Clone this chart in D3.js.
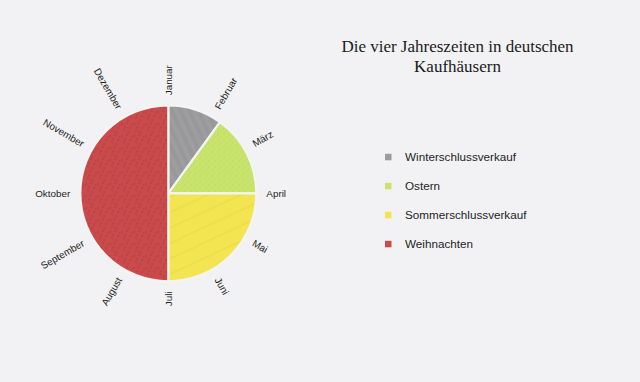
<!DOCTYPE html>
<html><head><meta charset="utf-8">
<script src="https://cdn.jsdelivr.net/npm/d3@7"></script>
<style>
html,body{margin:0;padding:0;background:#f2f2f4;}
svg{display:block;}
</style></head>
<body>
<svg id="chart" width="640" height="382"></svg>
<script>
const seasons = ["Winterschlussverkauf", "Ostern", "Sommerschlussverkauf", "Weihnachten"];
const shares = [10, 15, 25, 50];
const colors = ["#9b9b9d", "#c9e46d", "#f3e452", "#c94b4c"];
const months = ["Januar","Februar","März","April","Mai","Juni","Juli","August","September","Oktober","November","Dezember"];
const title = ["Die vier Jahreszeiten in deutschen", "Kaufhäusern"];

const svg = d3.select("#chart");
const cx = 168.3, cy = 193.3, R = 88;

// textures
const defs = svg.append("defs");
const pRed = defs.append("pattern").attr("id","pRed").attr("patternUnits","userSpaceOnUse").attr("width",12).attr("height",12);
pRed.append("rect").attr("width",12).attr("height",12).attr("fill",colors[3]);
[[1,2],[6,1],[9,6],[3,8],[7,10],[11,3],[4,5]].forEach(d=>pRed.append("rect").attr("x",d[0]).attr("y",d[1]).attr("width",1.5).attr("height",1.5).attr("fill","#b3383b").attr("opacity",0.85));
const pGrey = defs.append("pattern").attr("id","pGrey").attr("patternUnits","userSpaceOnUse").attr("width",8).attr("height",8).attr("patternTransform","rotate(65)");
pGrey.append("rect").attr("width",8).attr("height",8).attr("fill",colors[0]);
pGrey.append("line").attr("x1",0).attr("y1",2).attr("x2",8).attr("y2",2).attr("stroke","#8e8e90").attr("stroke-width",0.7);
pGrey.append("line").attr("x1",0).attr("y1",6).attr("x2",8).attr("y2",6).attr("stroke","#a6a6a8").attr("stroke-width",0.7);
const pGreen = defs.append("pattern").attr("id","pGreen").attr("patternUnits","userSpaceOnUse").attr("width",6).attr("height",6);
pGreen.append("rect").attr("width",6).attr("height",6).attr("fill",colors[1]);
[[1,1],[4,3],[2,5]].forEach(d=>pGreen.append("rect").attr("x",d[0]).attr("y",d[1]).attr("width",1).attr("height",1).attr("fill","#bcd862"));
const pYellow = defs.append("pattern").attr("id","pYellow").attr("patternUnits","userSpaceOnUse").attr("width",14).attr("height",14).attr("patternTransform","rotate(-25)");
pYellow.append("rect").attr("width",14).attr("height",14).attr("fill",colors[2]);
pYellow.append("line").attr("x1",0).attr("y1",4).attr("x2",14).attr("y2",4).attr("stroke","#eedc45").attr("stroke-width",1.5);
const fills = ["url(#pGrey)","url(#pGreen)","url(#pYellow)","url(#pRed)"];

const pie = d3.pie().sort(null).value(d=>d)(shares);
const arc = d3.arc().innerRadius(0).outerRadius(R);
const g = svg.append("g").attr("transform",`translate(${cx},${cy})`);
g.selectAll("path.slice").data(pie).join("path")
  .attr("class","slice")
  .attr("d",arc)
  .attr("fill",(d,i)=>fills[i])
  .attr("stroke","#f4f4f4").attr("stroke-width",2.2).attr("stroke-linejoin","miter");

// month labels
const angle = d3.scaleLinear().domain([0,12]).range([0,360]);
const LR = 98;
g.selectAll("text.month").data(months).join("text")
  .attr("class","month")
  .each(function(m,i){
    const a = angle(i);
    const rad = (a-90)*Math.PI/180;
    const x = LR*Math.cos(rad), y = LR*Math.sin(rad);
    const left = a >= 180;
    d3.select(this)
      .attr("transform",`translate(${x},${y}) rotate(${left ? a+90 : a-90})`)
      .attr("text-anchor", left ? "end" : "start");
  })
  .attr("dy","0.35em")
  .attr("font-family","Liberation Sans, Arial, sans-serif")
  .attr("font-size",9.9)
  .attr("fill","#1e1e1e")
  .text(d=>d);

// title
svg.append("text")
  .attr("x",457.5).attr("y",52)
  .attr("text-anchor","middle")
  .attr("font-family","Liberation Serif, 'DejaVu Serif', serif")
  .attr("font-size",17)
  .attr("fill","#1a1a1a")
  .selectAll("tspan").data(title).join("tspan")
  .attr("x",457.5).attr("dy",(d,i)=>i===0?0:20)
  .text(d=>d);

// legend
const ly = d3.scalePoint().domain(seasons).range([157,244]);
const lg = svg.append("g");
lg.selectAll("rect").data(seasons).join("rect")
  .attr("x",385).attr("y",d=>ly(d)-3.2).attr("width",6.5).attr("height",6.5)
  .attr("fill",(d,i)=>colors[i]);
lg.selectAll("text").data(seasons).join("text")
  .attr("x",405).attr("y",d=>ly(d)).attr("dy","0.35em")
  .attr("font-family","Liberation Sans, Arial, sans-serif")
  .attr("font-size",11.7)
  .attr("fill","#1e1e1e")
  .text(d=>d);
</script>
</body></html>
